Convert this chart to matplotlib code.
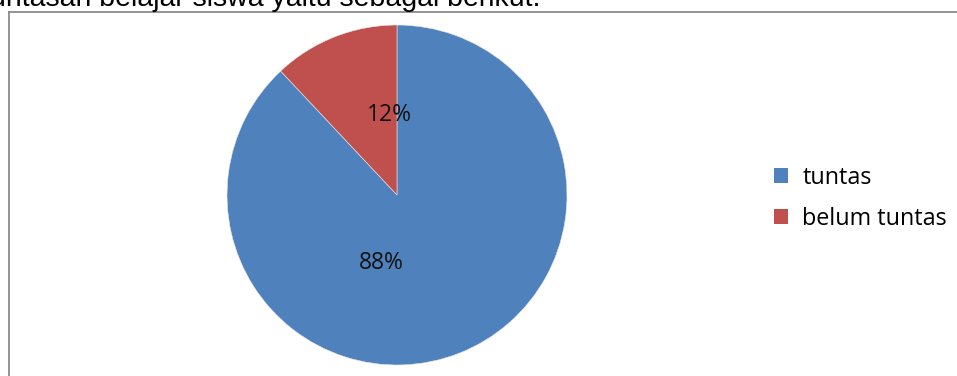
import matplotlib
matplotlib.use("Agg")
import matplotlib.pyplot as plt
from matplotlib.lines import Line2D
from matplotlib.patches import Patch

# Data
categories = ["tuntas", "belum tuntas"]
percentages = [88, 12]
colors = ["#4F81BD", "#C0504D"]
caption = "ketuntasan belajar siswa yaitu sebagai berikut."

W, H = 957, 376
DPI = 100
fig = plt.figure(figsize=(W / DPI, H / DPI), dpi=DPI)
fig.patch.set_facecolor("white")

def fx(px):
    return px / W

def fy(py):
    return 1 - py / H

# Running text above the chart frame (clipped by the page edge)
fig.text(fx(541), fy(6.0), caption, ha="right", va="baseline",
         fontsize=20.5, family="Liberation Sans", color="black")

# Chart frame: left and top edges
frame_color = "#8a8a8a"
fig.add_artist(Line2D([fx(9), fx(9)], [0, fy(11.5)], color=frame_color, lw=1.3,
                      transform=fig.transFigure))
fig.add_artist(Line2D([fx(9), 1], [fy(11.5), fy(11.5)], color=frame_color, lw=1.3,
                      transform=fig.transFigure))

# Pie axes: centre (397, 195) px, radius 170 px
cx, cy, r = 397, 195, 170
ax = fig.add_axes([fx(cx - r), fy(cy + r), 2 * r / W, 2 * r / H])
wedges, texts, autotexts = ax.pie(
    percentages, colors=colors, startangle=90, counterclock=False,
    radius=1, autopct=lambda p: f"{p:.0f}%",
    wedgeprops=dict(edgecolor="#e8e8e8", linewidth=0.4),
    textprops=dict(fontsize=16.5, family="Open Sans", color="#111111"),
)
# Label placement inside the wedges
label_pos = {"tuntas": (-0.09, -0.40), "belum tuntas": (-0.043, 0.47)}
for cat, t in zip(categories, autotexts):
    t.set_position(label_pos[cat])
    t.set_ha("center")
    t.set_va("center")
ax.set_xlim(-1, 1)
ax.set_ylim(-1, 1)
ax.set_aspect("equal")
ax.axis("off")

# Legend
handles = [Patch(facecolor=c, edgecolor="none") for c in colors]
fig.legend(handles, categories, loc="upper left",
           bbox_to_anchor=(fx(755.5), fy(147)), frameon=False,
           prop=dict(family="Open Sans", size=16.8),
           handlelength=0.6, handleheight=0.6, handletextpad=0.6,
           labelspacing=0.74, borderpad=0.3)

fig.savefig("out.png", dpi=DPI, facecolor="white")
